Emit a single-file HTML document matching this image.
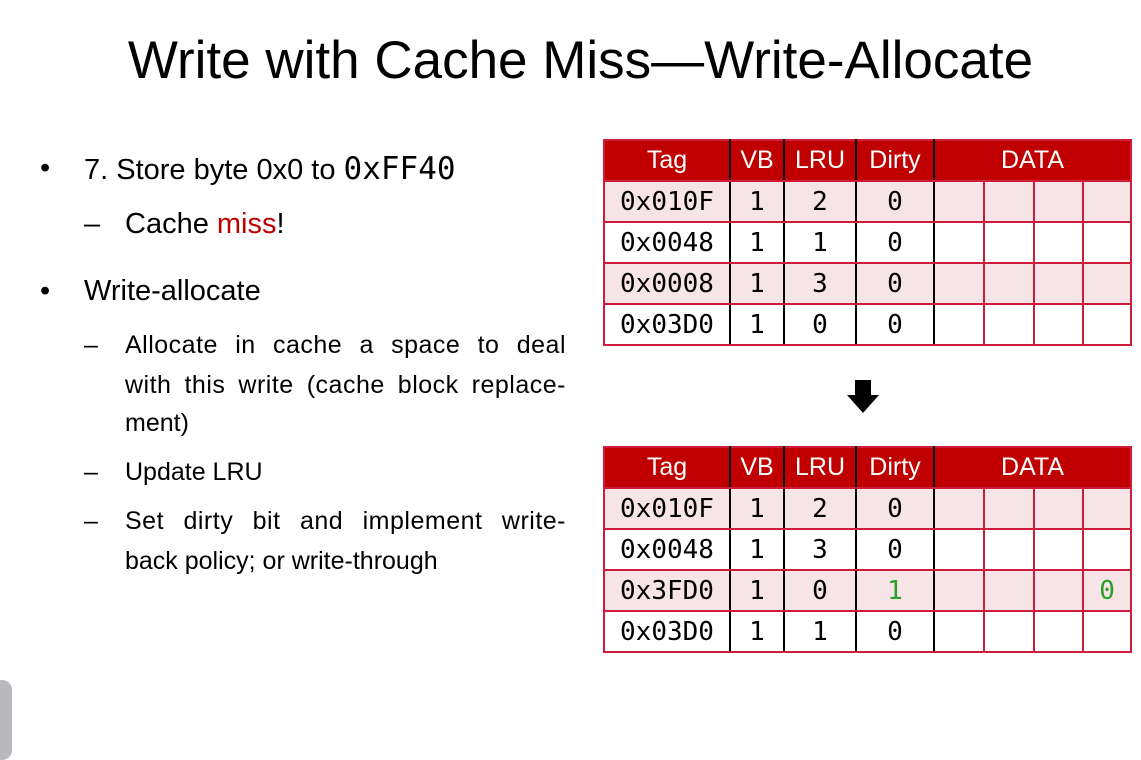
<!DOCTYPE html>
<html><head><meta charset="utf-8"><style>
body{margin:0;width:1141px;height:742px;background:#fff;position:relative;overflow:hidden;font-family:"Liberation Sans",sans-serif;color:#000}
.t{position:absolute;white-space:nowrap;line-height:1}
.m{font-family:"DejaVu Sans Mono","Liberation Mono",monospace}
.j{text-align:justify;text-align-last:justify;width:441px;letter-spacing:0.5px}
table{position:absolute;border-collapse:collapse;left:603px;width:527px;table-layout:fixed}
tr{height:41px}
td{border:2px solid #d01c3c;text-align:center;font-family:"DejaVu Sans Mono","Liberation Mono",monospace;font-size:26px;padding:0}
th{background:#c00000;color:#fff;font-weight:normal;font-size:25px;border:2px solid #d01c3c;padding:0}
.k{border-right:2px solid #000}
tr.p td{background:#f7e4e6}
.g{color:#2a9d2a}
</style></head><body>
<div class="t" style="left:10px;width:1141px;text-align:center;top:34px;font-size:53px">Write with Cache Miss—Write-Allocate</div>

<div class="t" style="left:40px;top:154px;font-size:29px">•</div>
<div class="t" style="left:84px;top:154px;font-size:29px">7. Store byte 0x0 to <span class="m" style="font-size:31px">0xFF40</span></div>
<div class="t" style="left:84px;top:210px;font-size:29px">–</div>
<div class="t" style="left:125px;top:210px;font-size:29px">Cache <span style="color:#c00000">miss</span>!</div>
<div class="t" style="left:40px;top:277px;font-size:29px">•</div>
<div class="t" style="left:84px;top:277px;font-size:29px">Write-allocate</div>
<div class="t" style="left:84px;top:333px;font-size:25px">–</div>
<div class="t j" style="left:125px;top:333px;font-size:25px">Allocate in cache a space to deal</div>
<div class="t j" style="left:125px;top:373px;font-size:25px">with this write (cache block replace-</div>
<div class="t" style="left:125px;top:411px;font-size:25px">ment)</div>
<div class="t" style="left:84px;top:460px;font-size:25px">–</div>
<div class="t" style="left:125px;top:460px;font-size:25px">Update LRU</div>
<div class="t" style="left:84px;top:509px;font-size:25px">–</div>
<div class="t j" style="left:125px;top:509px;font-size:25px">Set dirty bit and implement write-</div>
<div class="t" style="left:125px;top:549px;font-size:25px">back policy; or write-through</div>

<table style="top:139px">
<colgroup><col style="width:126px"><col style="width:54px"><col style="width:72px"><col style="width:78px"><col style="width:50px"><col style="width:50px"><col style="width:49px"><col style="width:48px"></colgroup>
<tr><th class="k">Tag</th><th class="k">VB</th><th class="k">LRU</th><th class="k">Dirty</th><th colspan="4">DATA</th></tr>
<tr class="p"><td class="k">0x010F</td><td class="k">1</td><td class="k">2</td><td class="k">0</td><td></td><td></td><td></td><td></td></tr>
<tr><td class="k">0x0048</td><td class="k">1</td><td class="k">1</td><td class="k">0</td><td></td><td></td><td></td><td></td></tr>
<tr class="p"><td class="k">0x0008</td><td class="k">1</td><td class="k">3</td><td class="k">0</td><td></td><td></td><td></td><td></td></tr>
<tr><td class="k">0x03D0</td><td class="k">1</td><td class="k">0</td><td class="k">0</td><td></td><td></td><td></td><td></td></tr>
</table>

<svg style="position:absolute;left:846px;top:380px" width="34" height="34"><polygon points="9,0 25,0 25,15 33,15 17,33 1,15 9,15" fill="#000"/></svg>

<table style="top:446px">
<colgroup><col style="width:126px"><col style="width:54px"><col style="width:72px"><col style="width:78px"><col style="width:50px"><col style="width:50px"><col style="width:49px"><col style="width:48px"></colgroup>
<tr><th class="k">Tag</th><th class="k">VB</th><th class="k">LRU</th><th class="k">Dirty</th><th colspan="4">DATA</th></tr>
<tr class="p"><td class="k">0x010F</td><td class="k">1</td><td class="k">2</td><td class="k">0</td><td></td><td></td><td></td><td></td></tr>
<tr><td class="k">0x0048</td><td class="k">1</td><td class="k">3</td><td class="k">0</td><td></td><td></td><td></td><td></td></tr>
<tr class="p"><td class="k">0x3FD0</td><td class="k">1</td><td class="k">0</td><td class="k g">1</td><td></td><td></td><td></td><td class="g">0</td></tr>
<tr><td class="k">0x03D0</td><td class="k">1</td><td class="k">1</td><td class="k">0</td><td></td><td></td><td></td><td></td></tr>
</table>

<div style="position:absolute;left:-12px;top:680px;width:24px;height:80px;background:#b8b9bd;border-radius:10px"></div>
</body></html>
